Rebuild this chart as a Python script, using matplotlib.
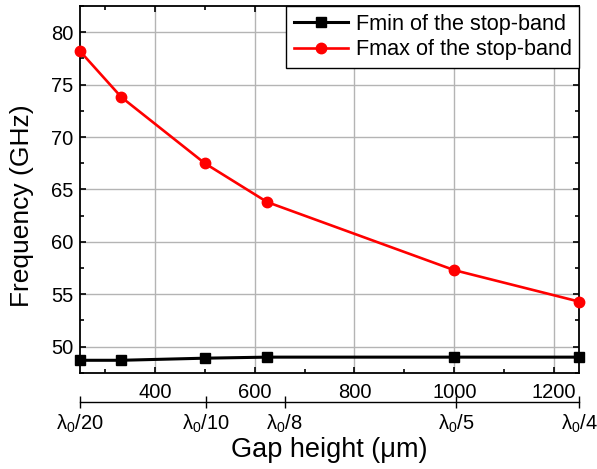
import matplotlib
matplotlib.use("Agg")
import matplotlib.pyplot as plt
from matplotlib.ticker import MultipleLocator, FixedLocator

plt.rcParams["font.family"] = ["Liberation Sans", "DejaVu Sans"]
plt.rcParams["mathtext.fontset"] = "custom"
plt.rcParams["mathtext.rm"] = "Liberation Sans"
plt.rcParams["mathtext.it"] = "Liberation Sans:italic"

# data
gap_um = [250, 333, 500, 625, 1000, 1250]
fmin_ghz = [48.7, 48.7, 48.9, 49.0, 49.0, 49.0]
fmax_ghz = [78.2, 73.8, 67.5, 63.8, 57.3, 54.3]

lam_pos = [250, 502, 660, 1003, 1250]
lam_labels = [r"$\mathrm{\lambda}_0$/20", r"$\mathrm{\lambda}_0$/10", r"$\mathrm{\lambda}_0$/8",
              r"$\mathrm{\lambda}_0$/5", r"$\mathrm{\lambda}_0$/4"]

fig = plt.figure(figsize=(5.97, 4.69), dpi=100)
ax = fig.add_axes([0.134, 0.205, 0.836, 0.782])

ax.plot(gap_um, fmin_ghz, "-s", color="black", lw=2.2, ms=6.5,
        label="Fmin of the stop-band", clip_on=False, zorder=4)
ax.plot(gap_um, fmax_ghz, "-o", color="red", lw=1.9, ms=7.5,
        label="Fmax of the stop-band", clip_on=False, zorder=5)

ax.set_xlim(250, 1250)
ax.set_ylim(47.5, 82.5)
ax.xaxis.set_major_locator(FixedLocator([400, 600, 800, 1000, 1200]))
ax.xaxis.set_minor_locator(FixedLocator([300, 500, 700, 900, 1100]))
ax.yaxis.set_major_locator(MultipleLocator(5))
ax.yaxis.set_minor_locator(MultipleLocator(2.5))
ax.grid(True, which="major", color="#b4b4b4", lw=1.0)
ax.set_axisbelow(True)
ax.tick_params(which="both", direction="in", top=True, right=True,
               labelsize=14.5, width=1.2)
ax.tick_params(axis="x", pad=7.5)
ax.tick_params(axis="y", pad=5)
ax.tick_params(which="major", length=4.5)
ax.tick_params(which="minor", length=2.8)
for sp in ax.spines.values():
    sp.set_linewidth(1.3)

ax.set_ylabel("Frequency (GHz)", fontsize=19)
ax.yaxis.set_label_coords(-0.092, 0.455)

leg = ax.legend(loc="upper right", borderaxespad=0, fancybox=False,
                edgecolor="black", framealpha=1, fontsize=15.6,
                handlelength=2.5, borderpad=0.35, labelspacing=0.22,
                handletextpad=0.35)
leg.get_frame().set_linewidth(1.0)

# wavelength axis underneath
sec = ax.secondary_xaxis(-0.079)
sec.set_xticks(lam_pos)
sec.set_xticklabels(lam_labels)
sec.tick_params(direction="inout", length=8, width=1.0, labelsize=14.5, pad=3.5)
sec.spines["bottom"].set_linewidth(1.0)
sec.set_xlabel("Gap height (μm)", fontsize=19.5, labelpad=2)

fig.savefig("out.png", dpi=100)
